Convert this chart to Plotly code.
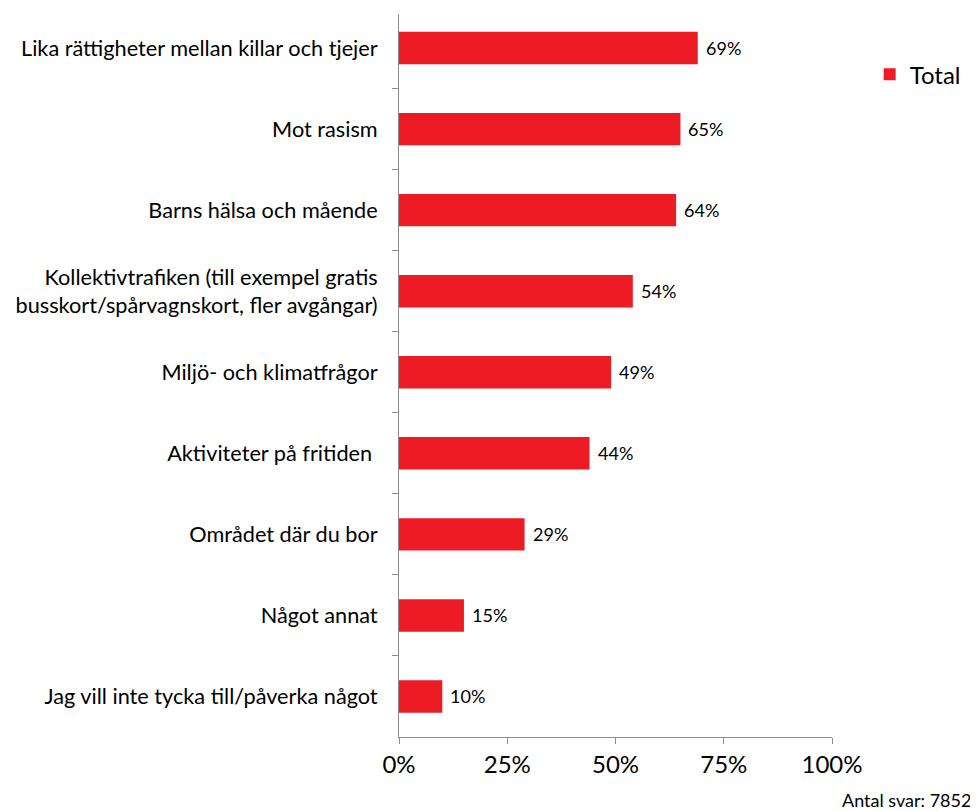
import plotly.graph_objects as go

categories = [
    "Lika rättigheter mellan killar och tjejer",
    "Mot rasism",
    "Barns hälsa och mående",
    "Kollektivtrafiken (till exempel gratis<br>busskort/spårvagnskort, fler avgångar)",
    "Miljö- och klimatfrågor",
    "Aktiviteter på fritiden ",
    "Området där du bor",
    "Något annat",
    "Jag vill inte tycka till/påverka något",
]
values = [69, 65, 64, 54, 49, 44, 29, 15, 10]
x_ticks = [0, 25, 50, 75, 100]
x_tick_labels = ["0%", "25%", "50%", "75%", "100%"]
series_name = "Total"
note = "Antal svar: 7852"

RED = "#ED1C24"
GREY = "#8C8C8C"

fig = go.Figure()
fig.add_trace(go.Bar(
    y=categories,
    x=values,
    orientation="h",
    name=series_name,
    marker=dict(color=RED, line=dict(width=0)),
    width=0.4,
    showlegend=True,
))

annotations = [
    dict(x=v, y=c, xref="x", yref="y", text=f"{v}%", showarrow=False,
         xanchor="left", yanchor="middle", xshift=6,
         font=dict(size=18, color="#000000"))
    for c, v in zip(categories, values)
]
annotations.append(dict(
    text=note, xref="paper", yref="paper",
    x=1.325, y=-0.087, xanchor="right", yanchor="middle",
    showarrow=False, font=dict(size=18),
))

fig.update_layout(
    width=970, height=803,
    margin=dict(l=391, r=146, t=6, b=74, autoexpand=False),
    paper_bgcolor="white", plot_bgcolor="white",
    font=dict(family="Lato, 'Open Sans', sans-serif", color="#000000"),
    showlegend=True,
    legend=dict(
        x=1.087, y=0.916, xanchor="left", yanchor="middle",
        font=dict(size=24), itemsizing="constant",
        bgcolor="rgba(0,0,0,0)", itemwidth=30,
    ),
    xaxis=dict(
        range=[0, 100], tickvals=x_ticks, ticktext=x_tick_labels,
        showgrid=False, zeroline=False,
        showline=True, linecolor=GREY, linewidth=1,
        ticks="outside", ticklen=6, tickcolor=GREY,
        tickfont=dict(size=24),
    ),
    yaxis=dict(
        range=[8.5, -0.42],
        showgrid=False, zeroline=False,
        showline=True, linecolor=GREY, linewidth=1,
        ticks="outside", ticklen=6, tickcolor=GREY,
        tickson="boundaries",
        tickfont=dict(size=21.7),
        ticklabelstandoff=16,
    ),
    annotations=annotations,
)

fig.write_html("out.html")
